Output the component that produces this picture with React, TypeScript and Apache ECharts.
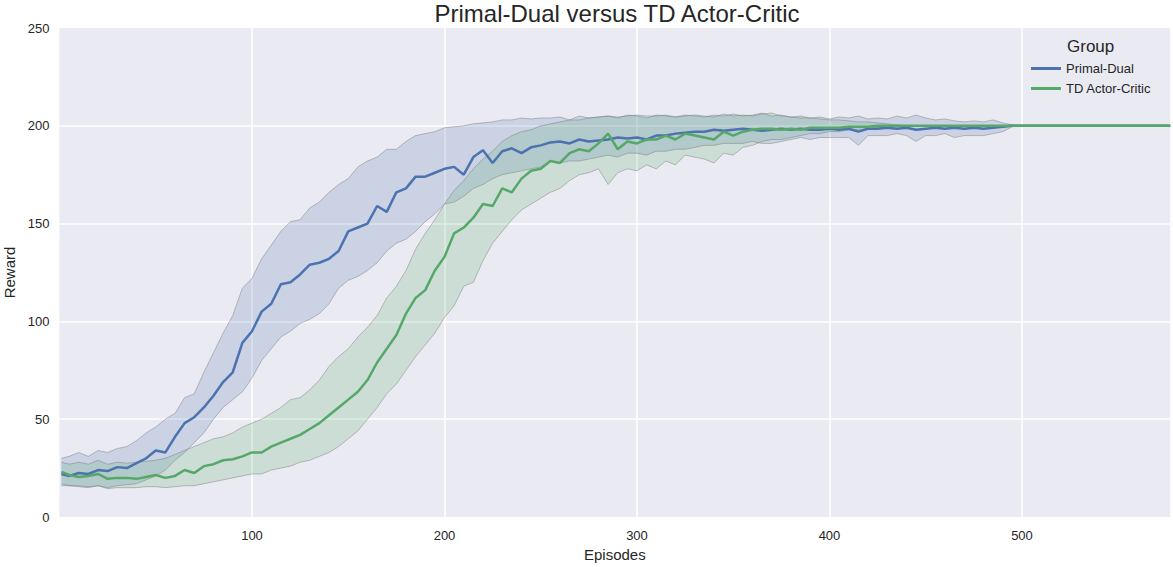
import React, { useEffect, useRef } from "react";
import * as echarts from "echarts";

const episodes = [
  1, 5, 10, 15, 20, 25, 30, 35, 40, 45,
  50, 55, 60, 65, 70, 75, 80, 85, 90, 95,
  100, 105, 110, 115, 120, 125, 130, 135, 140, 145,
  150, 155, 160, 165, 170, 175, 180, 185, 190, 195,
  200, 205, 210, 215, 220, 225, 230, 235, 240, 245,
  250, 255, 260, 265, 270, 275, 280, 285, 290, 295,
  300, 305, 310, 315, 320, 325, 330, 335, 340, 345,
  350, 355, 360, 365, 370, 375, 380, 385, 390, 395,
  400, 405, 410, 415, 420, 425, 430, 435, 440, 445,
  450, 455, 460, 465, 470, 475, 480, 485, 490, 495,
  500, 577,
];

const pdMean = [
  22, 21, 22.5, 22, 24, 23.5, 25.5, 25, 27.5, 30,
  34, 33, 41, 48, 51, 56, 62, 69, 74, 89,
  95, 105, 109, 119, 120, 124, 129, 130, 132, 136,
  146, 148, 150, 159, 156, 166, 168, 174, 174, 176,
  178, 179, 175, 184, 187.5, 181, 187, 188.5, 186, 189,
  190, 191.5, 192, 191, 193, 192, 192.5, 193, 194, 193.5,
  194, 193, 195, 195, 196, 196.5, 197, 197, 198, 197.5,
  198, 198.5, 198, 197.5, 198, 198.5, 198, 198.5, 198, 198,
  198.5, 198, 198.5, 197, 198.5, 198.5, 199, 198.5, 199, 198,
  198.5, 199, 198.5, 199, 198.5, 199, 198.5, 199, 199.5, 200,
  200, 200,
];

const pdUpper = [
  30, 31, 33, 31, 34, 33, 35, 36, 39, 43,
  46, 50, 53, 61, 63, 74, 84, 94, 103, 117,
  122, 132, 139, 146, 151, 152, 158, 161, 166, 170,
  173, 179, 182, 184, 188, 188, 192, 195, 196, 197,
  199, 199.5, 200, 201, 201.5, 202, 203, 203, 204, 203.5,
  204, 204, 204.5, 203, 205, 204, 204.5, 205, 204, 205.5,
  205, 204, 205.5, 205, 204.5, 205.5, 205, 204.5, 205.5, 205,
  206, 205, 205.5, 206.5, 205, 205.5, 204.5, 205, 204, 204.5,
  203.5, 204.5, 204, 205, 203.5, 204, 203.5, 205, 204, 205.5,
  204, 203, 203.5, 202.5, 202, 202.5, 202, 203, 201.5, 200.5,
  200, 200,
];

const pdLower = [
  16, 16, 15.5, 15, 16, 15, 16, 16.5, 17, 19,
  21, 24, 29, 33, 38, 43, 50, 56, 60, 64,
  71, 80, 86, 92, 95, 99, 101, 104, 109, 117,
  121, 123, 126, 130, 136, 140, 142, 146, 151, 155,
  160, 161, 164, 168, 170, 173, 175, 176, 177, 178,
  179, 182, 181, 182, 182, 183, 184, 185, 184, 186,
  186, 185, 187, 187, 188, 188, 189, 190, 190, 191,
  191, 191, 192, 191, 191, 192, 193, 194, 193, 194,
  194, 194, 194, 190, 195, 195, 195, 196, 195, 192,
  195, 195, 196, 194, 195, 195, 195, 196, 197, 199.5,
  200, 200,
];

const tdMean = [
  23, 21.5, 20.5, 21, 22, 19.5, 20, 20, 19.5, 20.5,
  21.5, 20, 21, 24, 22.5, 26, 27, 29, 29.5, 31,
  33, 33, 36, 38, 40, 42, 45, 48, 52, 56,
  60, 64, 70, 79, 86, 93, 104, 112, 116, 126,
  133, 145, 148, 153, 160, 159, 168, 166, 173, 177,
  178, 182, 181, 186, 188, 187, 191, 196, 188, 192,
  191, 193, 193, 195, 193, 196, 195, 194, 193, 197,
  195, 197, 198, 198.5, 198.5, 198, 198.5, 198, 199, 199,
  199, 199, 199.5, 199.5, 199.5, 200, 200, 200, 200, 200,
  200, 200, 200, 200, 200, 200, 200, 200, 200, 200,
  200, 200,
];

const tdUpper = [
  28, 27, 28, 27, 29, 27, 28, 27.5, 28, 28.5,
  29, 30, 32, 34, 36, 38, 40, 41, 43, 46,
  48, 50, 53, 56, 60, 61, 65, 70, 77, 82,
  86, 92, 97, 103, 112, 118, 126, 137, 145, 152,
  160, 167, 172, 178, 183, 187, 192, 195, 197, 198,
  200, 201, 202, 203, 203, 204, 204.5, 205, 204.5, 205,
  205.5, 205, 205, 205.5, 204.5, 205, 205.5, 205, 204.5, 206,
  205, 205.5, 205, 206, 206.5, 205, 204.5, 204, 204, 203.5,
  203, 203, 202.5, 202, 202, 201.5, 201, 200.5, 200, 200,
  200, 200, 200, 200, 200, 200, 200, 200, 200, 200,
  200, 200,
];

const tdLower = [
  17, 16, 16, 15.5, 16, 14.5, 15, 15, 15, 15.5,
  15.5, 15, 15.5, 16, 16, 17, 18, 19, 20, 21,
  22, 22, 24, 25, 26, 28, 29, 31, 33, 36,
  40, 44, 50, 56, 63, 68, 75, 82, 88, 94,
  102, 108, 118, 120, 131, 140, 146, 152, 157, 160,
  163, 166, 168, 172, 175, 176, 178, 170, 176, 178,
  177, 180, 178, 182, 180, 185, 184, 183, 181, 186,
  185, 189, 190, 192, 193, 193, 194, 195, 196, 196,
  197, 197, 198, 198, 198.5, 199, 199, 199.5, 200, 200,
  200, 200, 200, 200, 200, 200, 200, 200, 200, 200,
  200, 200,
];

const xTicks = [100, 200, 300, 400, 500];
const yTicks = [0, 50, 100, 150, 200, 250];

const BLUE = "#4C72B0";
const GREEN = "#55A868";
const EDGE = "rgba(120,120,120,0.45)";
const TEXT = "#262626";
const FONT = "Liberation Sans, Arial, sans-serif";

function pairs(ys: number[]) {
  return episodes.map((e, i) => [e, ys[i]]);
}

function bandArea(lo: number[], up: number[], fill: string) {
  return {
    type: "custom",
    coordinateSystem: "cartesian2d",
    silent: true,
    clip: true,
    z: 1,
    data: [[episodes[0], lo[0]]],
    encode: { x: 0, y: 1 },
    renderItem: (params: any, api: any) => {
      const pts: number[][] = [];
      for (let i = 0; i < episodes.length; i++) pts.push(api.coord([episodes[i], up[i]]));
      for (let i = episodes.length - 1; i >= 0; i--) pts.push(api.coord([episodes[i], lo[i]]));
      return {
        type: "polygon",
        shape: { points: pts },
        style: { fill, stroke: "none" },
      };
    },
  };
}

function edgeLine(ys: number[]) {
  return {
    type: "line",
    data: pairs(ys),
    symbol: "none",
    silent: true,
    lineStyle: { color: EDGE, width: 1 },
    z: 2,
  };
}

export default function App() {
  const ref = useRef<HTMLDivElement>(null);
  useEffect(() => {
    if (!ref.current) return;
    const chart = echarts.init(ref.current, null, { renderer: "svg" });
    chart.setOption({
      animation: false,
      backgroundColor: "#ffffff",
      textStyle: { fontFamily: FONT },
      title: {
        text: "Primal-Dual versus TD Actor-Critic",
        left: 612,
        textAlign: "center",
        top: -4,
        textStyle: { fontFamily: FONT, fontSize: 24, fontWeight: "normal", color: TEXT },
      },
      grid: {
        left: 59.5,
        right: 2.8,
        top: 28,
        bottom: 50,
        show: true,
        backgroundColor: "#EAEAF2",
        borderWidth: 0,
        outerBoundsMode: "none",
        containLabel: false,
      },
      legend: {
        data: ["Primal-Dual", "TD Actor-Critic"],
        orient: "vertical",
        left: 1026,
        top: 57,
        itemWidth: 30,
        itemHeight: 3,
        itemGap: 7,
        icon: "rect",
        textStyle: { fontFamily: FONT, fontSize: 13, color: TEXT },
      },
      graphic: [
        {
          type: "text",
          left: 1067,
          top: 38,
          style: { text: "Group", font: `17px ${FONT}`, fill: TEXT },
        },
      ],
      xAxis: {
        type: "value",
        min: 0,
        max: 577,
        interval: 100,
        name: "Episodes",
        nameLocation: "middle",
        nameGap: 24,
        nameTextStyle: { fontFamily: FONT, fontSize: 15, color: TEXT },
        axisLine: { show: false },
        axisTick: { show: false },
        axisLabel: {
          fontFamily: FONT,
          fontSize: 13,
          color: TEXT,
          margin: 12,
          showMaxLabel: false,
          formatter: (v: number) => (xTicks.includes(v) ? String(v) : ""),
        },
        splitLine: {
          show: true,
          showMinLine: false,
          showMaxLine: false,
          lineStyle: { color: "#ffffff", width: 1.5 },
        },
      },
      yAxis: {
        type: "value",
        min: 0,
        max: 250,
        interval: 50,
        name: "Reward",
        nameLocation: "middle",
        nameGap: 30,
        nameTextStyle: { fontFamily: FONT, fontSize: 15, color: TEXT },
        axisLine: { show: false },
        axisTick: { show: false },
        axisLabel: {
          fontFamily: FONT,
          fontSize: 13,
          color: TEXT,
          margin: 10,
          formatter: (v: number) => (yTicks.includes(v) ? String(v) : ""),
        },
        splitLine: {
          show: true,
          showMinLine: false,
          showMaxLine: false,
          lineStyle: { color: "#ffffff", width: 1.5 },
        },
      },
      series: [
        bandArea(pdLower, pdUpper, "rgba(76,114,176,0.2)"),
        bandArea(tdLower, tdUpper, "rgba(85,168,104,0.2)"),
        edgeLine(pdLower),
        edgeLine(pdUpper),
        edgeLine(tdLower),
        edgeLine(tdUpper),
        {
          name: "Primal-Dual",
          type: "line",
          data: pairs(pdMean),
          symbol: "none",
          lineStyle: { color: BLUE, width: 2.5 },
          itemStyle: { color: BLUE },
          z: 3,
        },
        {
          name: "TD Actor-Critic",
          type: "line",
          data: pairs(tdMean),
          symbol: "none",
          lineStyle: { color: GREEN, width: 2.5 },
          itemStyle: { color: GREEN },
          z: 4,
        },
      ],
    });
    return () => chart.dispose();
  }, []);
  return (
    <div
      ref={ref}
      style={{ position: "fixed", left: 0, top: 0, width: 1173, height: 567 }}
    />
  );
}
